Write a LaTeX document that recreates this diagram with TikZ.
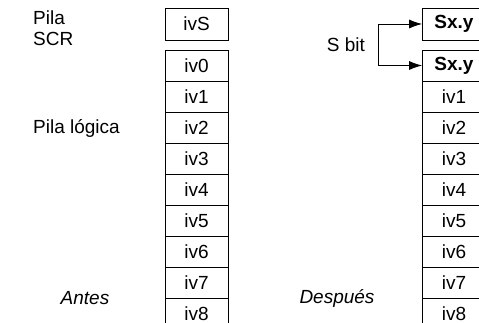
\documentclass[tikz,border=0pt]{standalone}
\usepackage{fontspec}
\setmainfont{Liberation Sans}
\usetikzlibrary{arrows.meta}
\begin{document}
\begin{tikzpicture}[x=1pt,y=-1pt,
  cell/.style={draw,line width=0.8pt,minimum width=63pt,minimum height=31pt,inner sep=0pt,font=\fontsize{19}{22}\selectfont},
  lbl/.style={align=left,font=\fontsize{19}{21}\selectfont,inner sep=0pt},
  conn/.style={line width=0.8pt,-{Latex[length=13pt,width=9pt]}}]
\useasboundingbox (0,0) rectangle (479,323);
\clip (0,0) rectangle (479,323);
% left column
\node[cell,minimum height=32pt] (ls) at (196.5,24) {ivS};
\foreach \i in {0,...,8}{
  \node[cell] (l\i) at (196.5,65.5+31*\i) {iv\i};
}
% right column
\node[cell,minimum height=32pt,font=\fontsize{19}{22}\selectfont\bfseries] (rs) at (454,24) {Sx.y};
\node[cell,font=\fontsize{19}{22}\selectfont\bfseries] (r0) at (454,65.5) {Sx.y};
\foreach \i in {1,...,8}{
  \node[cell] (r\i) at (454,65.5+31*\i) {iv\i};
}
% labels
\node[lbl,anchor=west] (pila) at (33,28) {Pila\\SCR};
\node[lbl,anchor=west] (logica) at (33,128) {Pila lógica};
\node[lbl,font=\fontsize{19}{21}\selectfont\itshape] (antes) at (85,298) {Antes};
\node[lbl,font=\fontsize{19}{21}\selectfont\itshape] (despues) at (337,298) {Después};
\node[lbl] (sbit) at (346,45) {S bit};
% bracket arrows
\coordinate (bt) at (378,24);
\coordinate (bb) at (378,65.5);
\draw[line width=0.8pt] (bt) -- (bb);
\draw[conn] (bt) -- (rs.west);
\draw[conn] (bb) -- (r0.west);
\end{tikzpicture}
\end{document}
